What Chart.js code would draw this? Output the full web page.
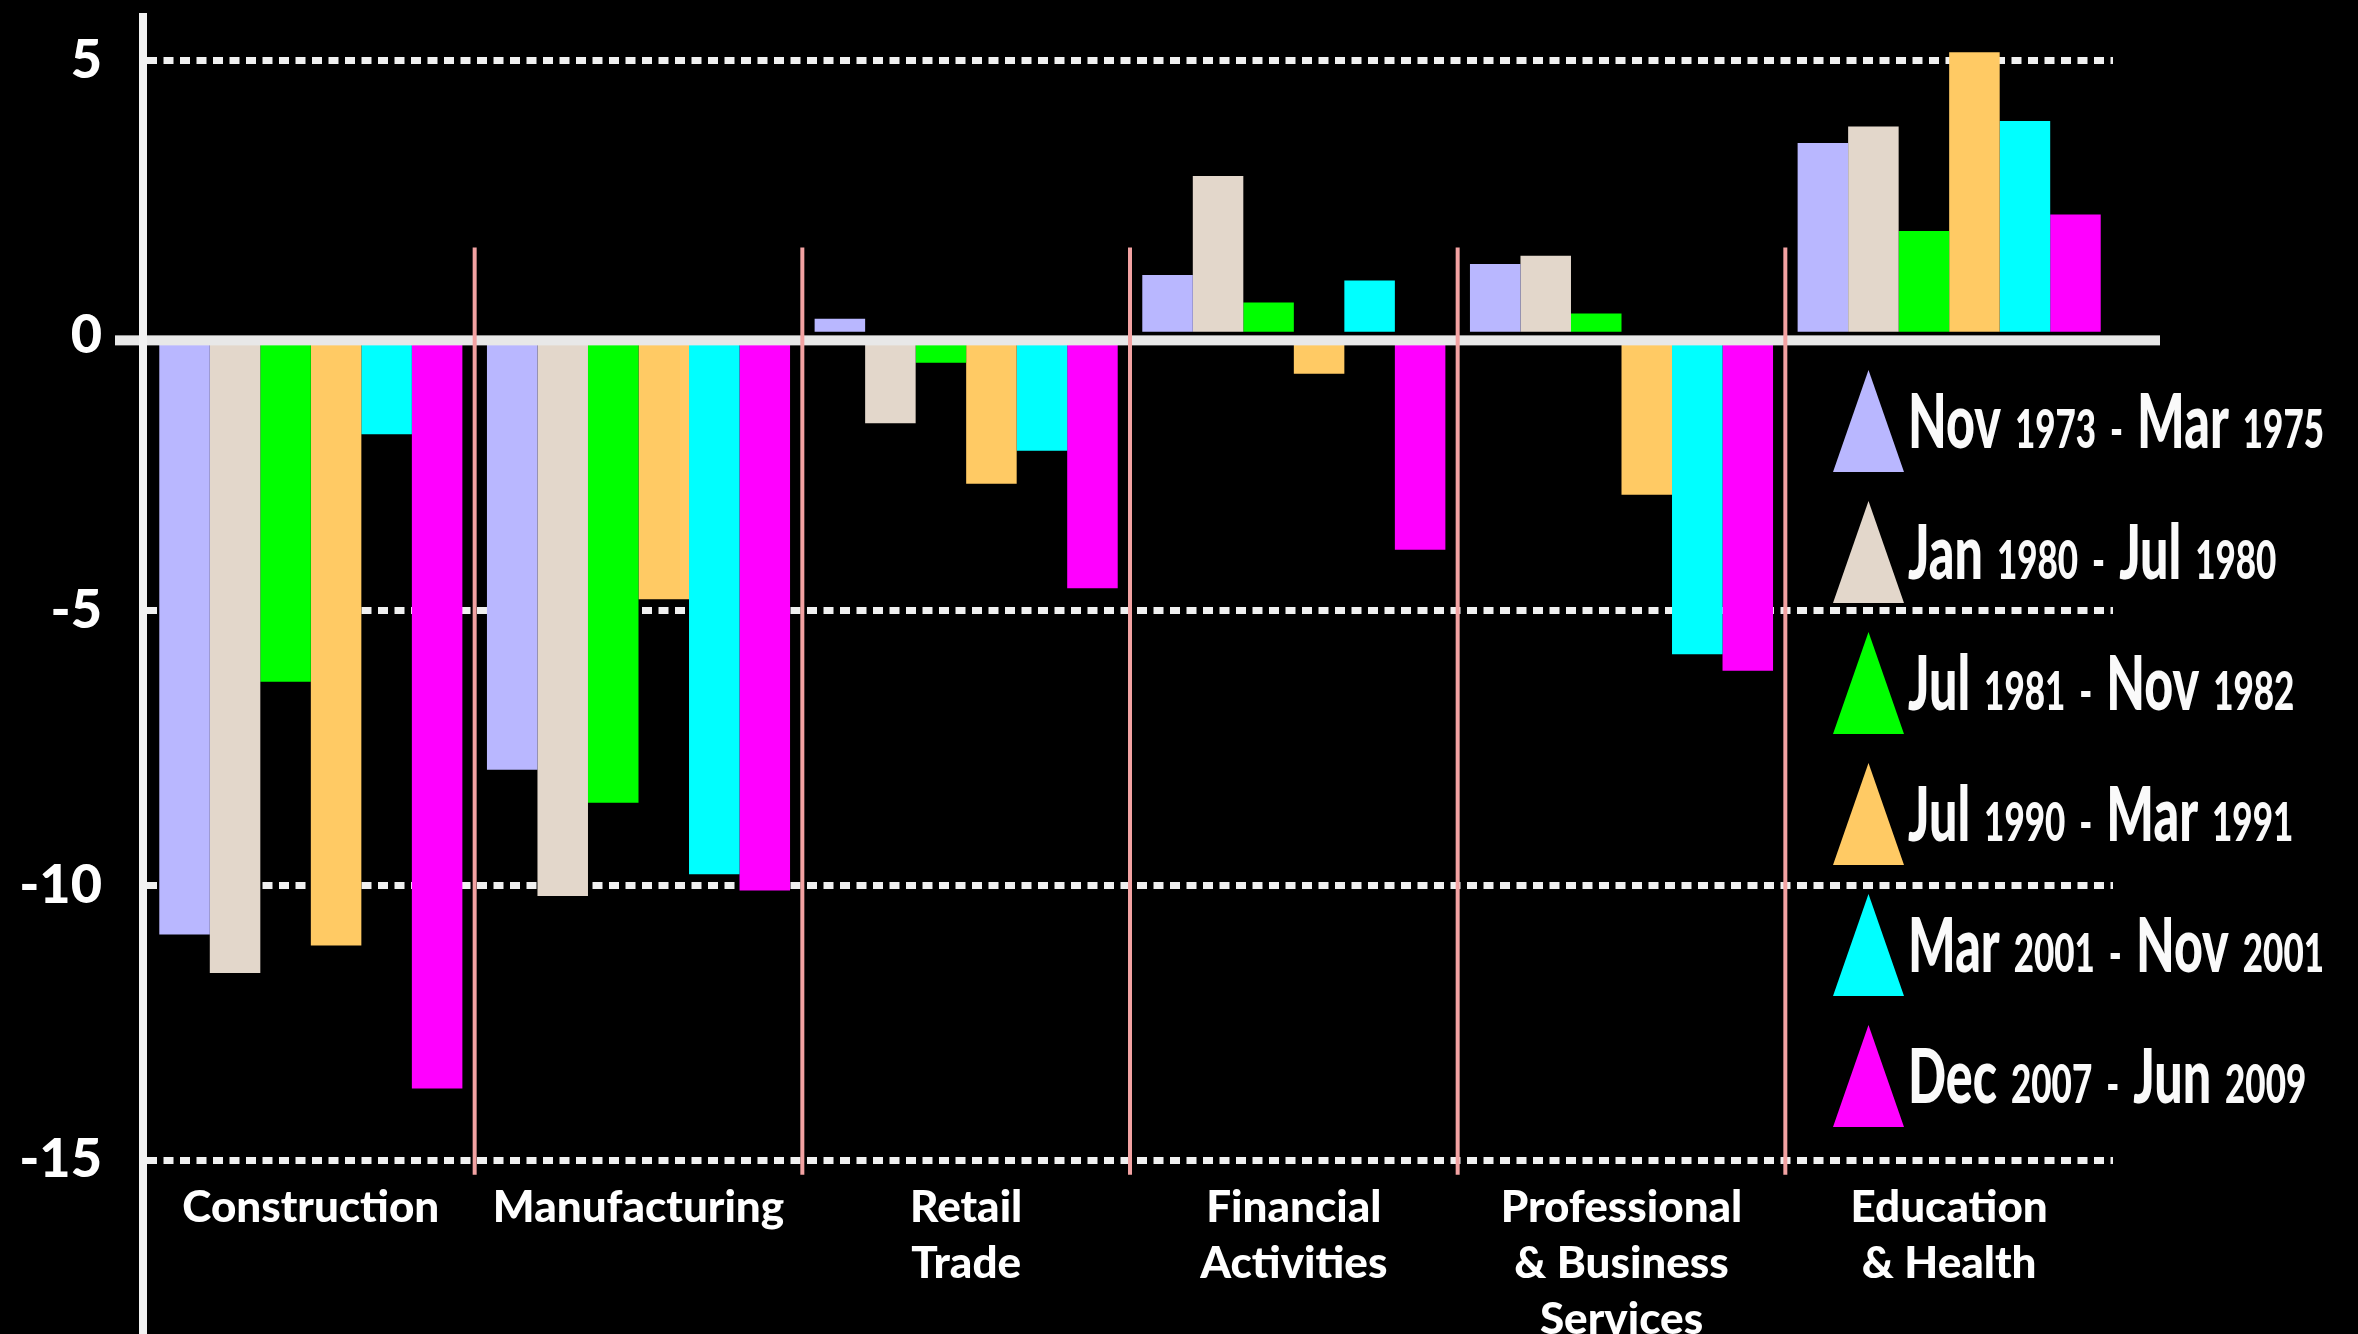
<!DOCTYPE html>
<html>
<head>
<meta charset="utf-8">
<title>Employment change by sector during recessions</title>
<script src="https://cdn.jsdelivr.net/npm/chart.js@4.4.1/dist/chart.umd.min.js"></script>
<style>
  html, body { margin: 0; padding: 0; background: #000; }
  #wrap { position: relative; width: 2358px; height: 1334px; }
</style>
</head>
<body>
<div id="wrap"><canvas id="chart"></canvas></div>
<script>
// Sectors on the x axis (one array per label = its lines)
const sectors = [
    ['Construction'],
    ['Manufacturing'],
    ['Retail', 'Trade'],
    ['Financial', 'Activities'],
    ['Professional', '& Business', 'Services'],
    ['Education', '& Health']
];

// Recession periods, one series each
const periods = [
    'Nov 1973 - Mar 1975',
    'Jan 1980 - Jul 1980',
    'Jul 1981 - Nov 1982',
    'Jul 1990 - Mar 1991',
    'Mar 2001 - Nov 2001',
    'Dec 2007 - Jun 2009'
];

// Percent change in jobs, in the order of `sectors`
const nov73 = [-10.9, -7.9, 0.3, 1.1, 1.3, 3.5];
const jan80 = [-11.6, -10.2, -1.6, 2.9, 1.45, 3.8];
const jul81 = [-6.3, -8.5, -0.5, 0.6, 0.4, 1.9];
const jul90 = [-11.1, -4.8, -2.7, -0.7, -2.9, 5.15];
const mar01 = [-1.8, -9.8, -2.1, 1.0, -5.8, 3.9];
const dec07 = [-13.7, -10.1, -4.6, -3.9, -6.1, 2.2];

const yTicks = [-15, -10, -5, 0, 5];

const series = [nov73, jan80, jul81, jul90, mar01, dec07];
const colors = ['#b9b7ff', '#e3d7cb', '#00ff00', '#ffca64', '#00ffff', '#ff00ff'];

const FONT = 'Lato, "Open Sans", sans-serif';

// Zero line, sector separators and the long y axis line
const decor = {
    id: 'decor',
    afterDatasetsDraw(chart, args, o) {
        const { ctx, chartArea: a, scales: { x, y } } = chart;
        const y0 = y.getPixelForValue(0);
        ctx.save();
        ctx.fillStyle = o.zeroColor;
        ctx.fillRect(a.left - o.zeroLeft, y0, a.right - a.left + o.zeroLeft + o.zeroRight, o.zeroWidth);

        ctx.strokeStyle = o.sepColor;
        ctx.lineWidth = o.sepWidth;
        const top = y.getPixelForValue(o.sepFrom);
        const bottom = y.getPixelForValue(o.sepTo);
        for (let i = 0; i < x.ticks.length - 1; i++) {
            const px = (x.getPixelForTick(i) + x.getPixelForTick(i + 1)) / 2;
            ctx.beginPath();
            ctx.moveTo(px, top);
            ctx.lineTo(px, bottom);
            ctx.stroke();
        }

        ctx.fillStyle = o.axisColor;
        ctx.fillRect(a.left - o.axisWidth, o.axisTop, o.axisWidth, chart.height - o.axisTop);
        ctx.restore();
    }
};

// Legend with tall triangles, month names large and years small
const periodLegend = {
    id: 'periodLegend',
    afterDraw(chart, args, o) {
        const ctx = chart.ctx;
        chart.data.datasets.forEach((ds, i) => {
            const base = o.top + o.triHeight + i * o.step;
            ctx.save();
            ctx.fillStyle = ds.backgroundColor;
            ctx.beginPath();
            ctx.moveTo(o.left + o.triWidth / 2, base - o.triHeight);
            ctx.lineTo(o.left + o.triWidth, base);
            ctx.lineTo(o.left, base);
            ctx.closePath();
            ctx.fill();

            let tx = o.left + o.triWidth + o.textGap;
            const baseline = base - o.baselineLift;
            ctx.fillStyle = o.color;
            ctx.textBaseline = 'alphabetic';
            ds.label.split(' ').forEach(word => {
                const big = /^[A-Za-z]+$/.test(word);
                ctx.font = o.weight + ' ' + (big ? o.bigSize : o.smallSize) + 'px ' + FONT;
                const w = ctx.measureText(word).width * o.squeeze;
                ctx.save();
                ctx.translate(tx, baseline);
                ctx.scale(o.squeeze, 1);
                ctx.fillText(word, 0, 0);
                ctx.restore();
                tx += w + o.wordGap;
            });
            ctx.restore();
        });
    }
};

const ctx = document.getElementById('chart').getContext('2d');

new Chart(ctx, {
    type: 'bar',
    data: {
        labels: sectors,
        datasets: series.map((values, i) => ({
            label: periods[i],
            data: values,
            backgroundColor: colors[i],
            borderWidth: 0
        }))
    },
    options: {
        responsive: true,
        maintainAspectRatio: false,
        animation: false,
        layout: {
            padding: { top: 33, right: 245, bottom: 0, left: 0 }
        },
        datasets: {
            bar: { categoryPercentage: 0.925, barPercentage: 1 }
        },
        plugins: {
            legend: { display: false },
            tooltip: { enabled: false },
            decor: {
                zeroColor: '#e8e8e8', zeroWidth: 10, zeroLeft: 32, zeroRight: 47,
                sepColor: '#f2a2a2', sepWidth: 4, sepFrom: 1.6, sepTo: -15.27,
                axisColor: '#f2f2f2', axisWidth: 8, axisTop: 13
            },
            periodLegend: {
                left: 1833, top: 370, triWidth: 71, triHeight: 102, step: 131,
                textGap: 4, baselineLift: 24, bigSize: 76, smallSize: 53,
                squeeze: 0.66, wordGap: 14, color: '#fafafa', weight: '900'
            }
        },
        scales: {
            x: {
                grid: { display: false },
                border: { display: false },
                ticks: {
                    color: '#ffffff',
                    font: { family: FONT, size: 44, weight: '900', lineHeight: 1.27 },
                    padding: 12,
                    maxRotation: 0,
                    autoSkip: false
                },
                afterFit: scale => { scale.height = 174; }
            },
            y: {
                min: -15,
                max: 5.5,
                afterBuildTicks: scale => {
                    scale.ticks = yTicks.map(v => ({ value: v }));
                },
                grid: {
                    color: c => (c.tick && c.tick.value === 0) ? 'rgba(0,0,0,0)' : '#f0f0f0',
                    lineWidth: 7,
                    drawTicks: false
                },
                border: { display: false, dash: [10, 6.5] },
                ticks: {
                    color: '#ffffff',
                    font: { family: FONT, size: 54, weight: '900' },
                    padding: 45
                },
                afterFit: scale => {
                    scale.width = 147;
                    scale.paddingTop = 0;
                    scale.paddingBottom = 0;
                }
            }
        }
    },
    plugins: [decor, periodLegend]
});
</script>
</body>
</html>
